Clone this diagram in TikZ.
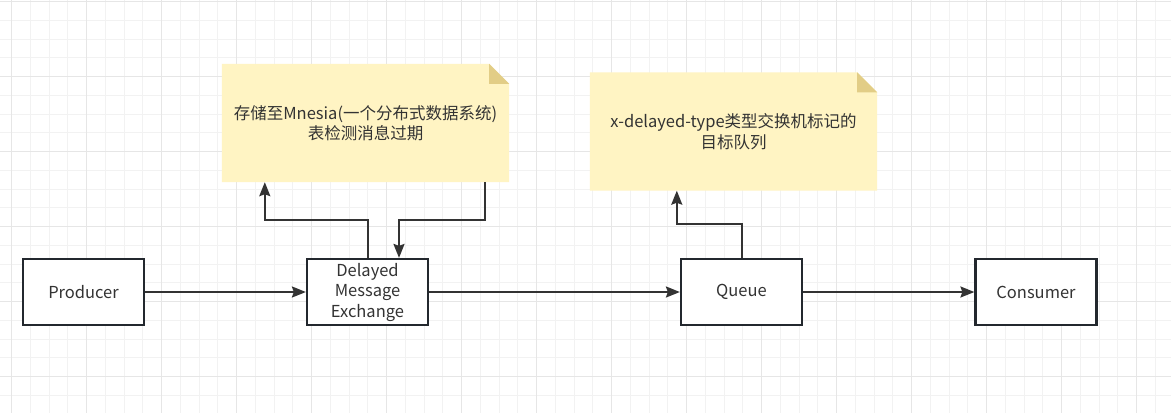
\documentclass[tikz,border=0pt]{standalone}
\usepackage{fontspec}
\setmainfont{Noto Sans CJK SC}
\usetikzlibrary{arrows.meta}
\definecolor{gridminor}{HTML}{F2F2F2}
\definecolor{gridmajor}{HTML}{E6E6E6}
\definecolor{notefill}{HTML}{FFF4C3}
\definecolor{notefold}{HTML}{E2CD86}
\definecolor{boxline}{HTML}{23282E}
\definecolor{flowline}{HTML}{333333}
\definecolor{txt}{HTML}{333333}
\pgfdeclarelayer{grid}
\pgfdeclarelayer{paper}
\pgfsetlayers{grid,paper,main}

\begin{document}
\begin{tikzpicture}[
        x=1pt, y=-1pt,
        line join=miter,
        box/.style={draw=boxline, line width=2.2pt, fill=white, minimum width=121pt, minimum height=66pt, inner sep=0pt, align=center, text=txt, font=\fontsize{16.5}{20.5}\selectfont},
        notetext/.style={minimum width=287pt, minimum height=118pt, inner sep=0pt, align=center, text=txt, font=\fontsize{16.5}{20.5}\selectfont},
        flow/.style={draw=flowline, line width=2pt, -{Stealth[length=14pt,width=11pt,inset=2pt]}}
    ]
        \useasboundingbox (0,0) rectangle (1171,413);

        % griglia di sfondo
        \begin{pgfonlayer}{grid}
            \fill[white] (0,0) rectangle (1171,413);
            \foreach \x in {11.7,30.45,...,1171}{
                \draw[gridminor, line width=1pt] (\x,0) -- (\x,413);
            }
            \foreach \y in {1.7,20.45,...,413}{
                \draw[gridminor, line width=1pt] (0,\y) -- (1171,\y);
            }
            \foreach \x in {11.7,86.7,...,1171}{
                \draw[gridmajor, line width=1pt] (\x,0) -- (\x,413);
            }
            \foreach \y in {1.7,76.7,...,413}{
                \draw[gridmajor, line width=1pt] (0,\y) -- (1171,\y);
            }
        \end{pgfonlayer}

        % blocchi
        \node[box] (producer) at (83.5,292) {Producer};
        \node[box] (exchange) at (367.5,292) {Delayed\\Message\\Exchange};
        \node[box] (queue) at (741.5,292) {Queue};
        \node[box] (consumer) at (1036,292) {Consumer};

        % note
        \node[notetext] (storenote) at (365.5,123) {存储至Mnesia(一个分布式数据系统)\\表检测消息过期};
        \node[notetext] (queuenote) at (733.5,131.5) {x-delayed-type类型交换机标记的\\目标队列};

        \begin{pgfonlayer}{paper}
            \foreach \n in {storenote,queuenote}{
                \fill[notefill] (\n.south west) -- (\n.north west) -- ([xshift=-20pt]\n.north east)
                    -- ([yshift=-20pt]\n.north east) -- (\n.south east) -- cycle;
                \fill[notefold] ([xshift=-20pt]\n.north east) -- ([xshift=-20pt,yshift=-20pt]\n.north east)
                    -- ([yshift=-20pt]\n.north east) -- cycle;
            }
        \end{pgfonlayer}

        % flusso principale
        \draw[flow] (producer) -- (exchange);
        \draw[flow] (exchange) -- (queue);
        \draw[flow] (queue) -- (consumer);

        % andata e ritorno verso le note
        \coordinate (storeout) at ([xshift=43pt]storenote.south west);
        \coordinate (storein) at ([xshift=-24pt]storenote.south east);
        \coordinate (exin) at ([xshift=31.5pt]exchange.north);
        \coordinate (queuenotein) at ([xshift=87pt]queuenote.south west);

        \draw[flow] (exchange.north) -- ++(0,-38) -| (storeout);
        \draw[flow] (storein) -- ++(0,38) -| (exin);
        \draw[flow] (queue.north) -- ++(0,-34) -| (queuenotein);
    \end{tikzpicture}
\end{document}
